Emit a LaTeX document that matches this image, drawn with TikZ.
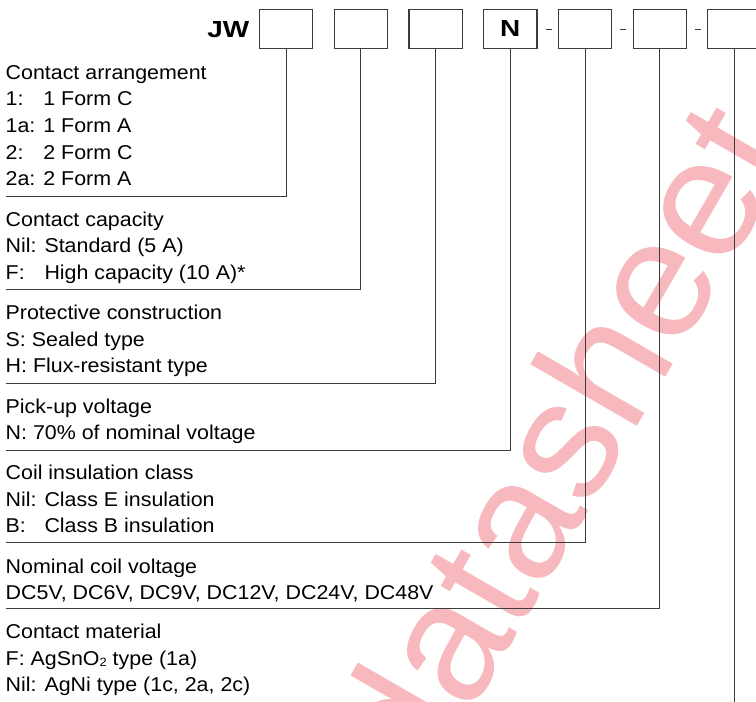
\documentclass[tikz,border=0pt]{standalone}
\usepackage{fontspec}
\usepackage{calc}
\setmainfont[FakeStretch=1.07]{Liberation Sans}
\newfontfamily\hdfont[FakeStretch=1.2]{Liberation Sans Bold}
\newfontfamily\wmfont{Liberation Sans}
\definecolor{wmpink}{RGB}{247,184,190}
\definecolor{ln}{RGB}{60,60,60}
\newcommand\pfx[2]{\makebox[\widthof{#1}][l]{#2}}
\newcommand\subtwo{{\fontsize{12}{12}\selectfont\raisebox{-1.5pt}{2}}}
\begin{document}
\begin{tikzpicture}[x=1pt,y=-1pt,
  txt/.style={anchor=base west, inner sep=0pt, font=\fontsize{20}{24}\selectfont},
  codebox/.style={draw=ln, line width=1.1pt, minimum width=53.3pt, minimum height=39pt, inner sep=0pt, font=\hdfont\fontsize{23.3}{28}\selectfont},
  leader/.style={draw=ln, line width=1pt},
  dashmark/.style={draw=ln, line width=1pt}]
\clip (0,0) rectangle (756,702);
\fill[white] (0,0) rectangle (756,702);
% watermark
\node[rotate=60, text=wmpink, font=\wmfont\fontsize{170}{170}\selectfont, anchor=base west, inner sep=0pt] (wm) at (423,797) {datasheet};
% header
\node[anchor=base east, inner sep=0pt, font=\hdfont\fontsize{23.3}{28}\selectfont] (jw) at (249.5,37.3) {JW};
\node[codebox] (b1) at (286.2,28.8) {};
\node[codebox] (b2) at (360.9,28.8) {};
\node[codebox] (b3) at (435.6,28.8) {};
\node[codebox] (b4) at (510.3,28.8) {N};
\node[codebox] (b5) at (585.0,28.8) {};
\node[codebox] (b6) at (659.7,28.8) {};
\node[codebox] (b7) at (734.4,28.8) {};
\draw[dashmark] ([xshift=8pt,yshift=-0.5pt]b4.east) -- ([xshift=14pt,yshift=-0.5pt]b4.east);
\draw[dashmark] ([xshift=8pt,yshift=-0.5pt]b5.east) -- ([xshift=14pt,yshift=-0.5pt]b5.east);
\draw[dashmark] ([xshift=8pt,yshift=-0.5pt]b6.east) -- ([xshift=14pt,yshift=-0.5pt]b6.east);
% leader end points
\coordinate (e1) at (5.5,196.7);
\coordinate (e2) at (5.5,289.3);
\coordinate (e3) at (5.5,383.3);
\coordinate (e4) at (5.5,450);
\coordinate (e5) at (5.5,542.7);
\coordinate (e6) at (5.5,608.3);
\coordinate (e7) at (734.4,702);
\draw[leader] (b1.south) |- (e1);
\draw[leader] (b2.south) |- (e2);
\draw[leader] (b3.south) |- (e3);
\draw[leader] (b4.south) |- (e4);
\draw[leader] (b5.south) |- (e5);
\draw[leader] (b6.south) |- (e6);
\draw[leader] (b7.south) -- (e7);
% section 1
\node[txt] (t11) at (5.5,79) {Contact arrangement};
\node[txt] (t12) at (5.5,105.7) {\pfx{1a: }{1:}1 Form C};
\node[txt] (t13) at (5.5,132.4) {1a: 1 Form A};
\node[txt] (t14) at (5.5,159.1) {\pfx{2a: }{2:}2 Form C};
\node[txt] (t15) at (5.5,185.8) {2a: 2 Form A};
% section 2
\node[txt] (t21) at (5.5,226) {Contact capacity};
\node[txt] (t22) at (5.5,252.6) {Nil: Standard (5 A)};
\node[txt] (t23) at (5.5,279.2) {\pfx{Nil: }{F:}High capacity (10 A)*};
% section 3
\node[txt] (t31) at (5.5,319.3) {Protective construction};
\node[txt] (t32) at (5.5,346) {S: Sealed type};
\node[txt] (t33) at (5.5,372.7) {H: Flux-resistant type};
% section 4
\node[txt] (t41) at (5.5,413.3) {Pick-up voltage};
\node[txt] (t42) at (5.5,439.3) {N: 70\% of nominal voltage};
% section 5
\node[txt] (t51) at (5.5,479.3) {Coil insulation class};
\node[txt] (t52) at (5.5,506) {Nil: Class E insulation};
\node[txt] (t53) at (5.5,532.7) {\pfx{Nil: }{B:}Class B insulation};
% section 6
\node[txt] (t61) at (5.5,573.5) {Nominal coil voltage};
\node[txt] (t62) at (5.5,599.5) {DC5V, DC6V, DC9V, DC12V, DC24V, DC48V};
% section 7
\node[txt] (t71) at (5.5,638.3) {Contact material};
\node[txt] (t72) at (5.5,665) {F: AgSnO\subtwo{} type (1a)};
\node[txt] (t73) at (5.5,691.7) {Nil: AgNi type (1c, 2a, 2c)};
\end{tikzpicture}
\end{document}
